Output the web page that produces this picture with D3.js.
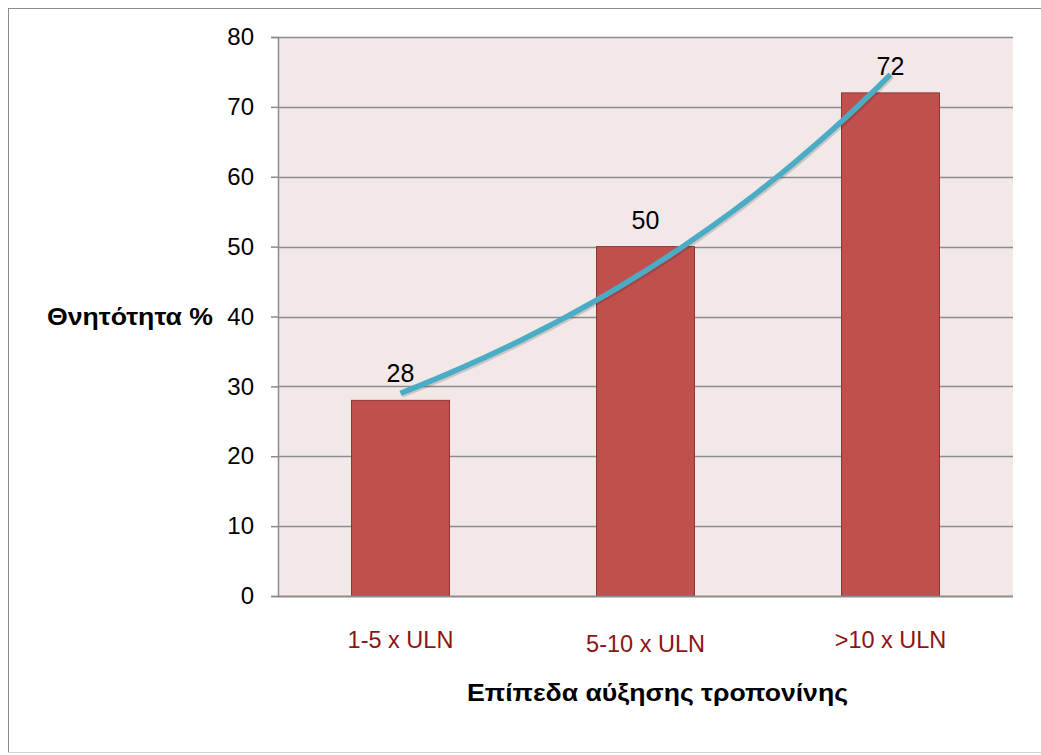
<!DOCTYPE html>
<html>
<head>
<meta charset="utf-8">
<script src="https://cdn.jsdelivr.net/npm/d3@7"></script>
<style>
  html, body { margin: 0; padding: 0; background: #fff; }
  svg { display: block; }
</style>
</head>
<body>
<svg id="chart" width="1041" height="755"></svg>
<script>
const categories = ["1-5 x ULN", "5-10 x ULN", ">10 x ULN"];
const mortality = [28, 50, 72];
const yTicks = [0, 10, 20, 30, 40, 50, 60, 70, 80];
const yTitle = "Θνητότητα %";
const xTitle = "Επίπεδα αύξησης τροπονίνης";

const svg = d3.select("#chart");
const W = 1041, H = 755;
const plot = { left: 278, right: 1013, top: 37, bottom: 596 };
const FONT = "Liberation Sans, Arial, sans-serif";

// outer frame
svg.append("rect").attr("x", 8.5).attr("y", 8.5).attr("width", W + 10).attr("height", 744)
  .attr("fill", "#fff").attr("stroke", "#8c8c8c").attr("stroke-width", 1);
svg.append("line").attr("x1", 8).attr("x2", W).attr("y1", 752.5).attr("y2", 752.5)
  .attr("stroke", "#d0d0d0");

const x = d3.scaleBand().domain(categories).range([plot.left, plot.right])
  .paddingInner(0.6).paddingOuter(0.3);
const y = d3.scaleLinear().domain([0, 80]).range([plot.bottom, plot.top]);

// plot background
svg.append("rect").attr("x", plot.left).attr("y", plot.top)
  .attr("width", plot.right - plot.left).attr("height", plot.bottom - plot.top)
  .attr("fill", "#f2e8e8");

// gridlines
svg.append("g").selectAll("line").data(yTicks.filter(d => d > 0)).join("line")
  .attr("x1", plot.left).attr("x2", plot.right)
  .attr("y1", d => Math.round(y(d)) + 0.5).attr("y2", d => Math.round(y(d)) + 0.5)
  .attr("stroke", "#8c8c8c").attr("stroke-width", 1.5);

// y axis
const yAxis = d3.axisLeft(y).tickValues(yTicks).tickSize(7).tickPadding(17);
const gy = svg.append("g").attr("transform", `translate(${plot.left},0)`).call(yAxis);
gy.select(".domain").attr("stroke", "#8c8c8c").attr("stroke-width", 1.5);
gy.selectAll(".tick line").attr("stroke", "#8c8c8c").attr("stroke-width", 1.5);
gy.selectAll(".tick text").attr("font-family", FONT)
  .attr("font-size", 24).attr("fill", "#000");

// bars
svg.append("g").selectAll("rect").data(mortality).join("rect")
  .attr("x", (d, i) => x(categories[i]))
  .attr("y", d => y(d))
  .attr("width", x.bandwidth())
  .attr("height", d => plot.bottom - y(d))
  .attr("fill", "#c0504d").attr("stroke", "#8e3431").attr("stroke-width", 1);

// x axis line
svg.append("line").attr("x1", plot.left).attr("x2", plot.right)
  .attr("y1", plot.bottom + 0.5).attr("y2", plot.bottom + 0.5)
  .attr("stroke", "#8c8c8c").attr("stroke-width", 2);

// exponential trendline fitted to the data (like a spreadsheet's trendline)
const xs = mortality.map((d, i) => i + 1);
const ls = mortality.map(d => Math.log(d));
const mx = d3.mean(xs), ml = d3.mean(ls);
const b = d3.sum(xs.map((v, i) => (v - mx) * (ls[i] - ml))) / d3.sum(xs.map(v => (v - mx) ** 2));
const a = Math.exp(ml - b * mx);
const xi = d3.scaleLinear().domain([1, categories.length])
  .range([x(categories[0]) + x.bandwidth() / 2, x(categories[categories.length - 1]) + x.bandwidth() / 2]);
const trend = d3.range(1, categories.length + 0.001, 0.05).map(t => [xi(t), y(a * Math.exp(b * t))]);
const lineGen = d3.line();
svg.append("path").attr("d", lineGen(trend)).attr("fill", "none")
  .attr("stroke", "rgba(0,0,0,0.15)").attr("stroke-width", 5).attr("transform", "translate(1.5,2)");
svg.append("path").attr("d", lineGen(trend)).attr("fill", "none")
  .attr("stroke", "#4bacc6").attr("stroke-width", 5.5);

// data labels
svg.append("g").selectAll("text").data(mortality).join("text")
  .attr("x", (d, i) => x(categories[i]) + x.bandwidth() / 2)
  .attr("y", d => y(d) - 18)
  .attr("text-anchor", "middle")
  .attr("font-family", FONT)
  .attr("font-size", 25).attr("fill", "#000")
  .text(d => d);

// category labels
const catDy = [0, 4, 0];
svg.append("g").selectAll("text").data(categories).join("text")
  .attr("x", d => x(d) + x.bandwidth() / 2)
  .attr("y", (d, i) => 648 + catDy[i])
  .attr("text-anchor", "middle")
  .attr("font-family", FONT)
  .attr("font-size", 23.5).attr("fill", "#8b1414")
  .text(d => d);

// axis titles
svg.append("text").attr("x", 130).attr("y", 325).attr("text-anchor", "middle")
  .attr("font-family", FONT).attr("font-weight", "bold")
  .attr("font-size", 24).attr("fill", "#000")
  .attr("textLength", 166).attr("lengthAdjust", "spacingAndGlyphs")
  .text(yTitle);
svg.append("text").attr("x", 657.5).attr("y", 701).attr("text-anchor", "middle")
  .attr("font-family", FONT).attr("font-weight", "bold")
  .attr("font-size", 24).attr("fill", "#000")
  .attr("textLength", 381).attr("lengthAdjust", "spacingAndGlyphs")
  .text(xTitle);
</script>
</body>
</html>
